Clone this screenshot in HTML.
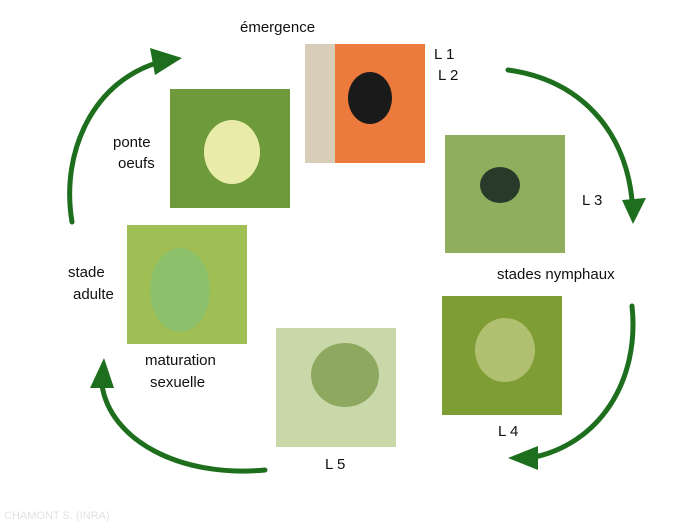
<!DOCTYPE html>
<html><head><meta charset="utf-8"><style>
body{margin:0;width:700px;height:525px;background:#fff;overflow:hidden;position:relative;font-family:"Liberation Sans",sans-serif;}
.t{position:absolute;font-size:15px;color:#111;white-space:nowrap;}
.p{position:absolute;width:120px;height:119px;}
</style></head><body>
<svg width="700" height="525" style="position:absolute;left:0;top:0">
<g fill="none" stroke="#1d6e1d" stroke-linecap="round">
<path d="M72 222 C60 150 95 80 160 62" stroke-width="5"/>
<path d="M508 70 C580 80 625 130 632 200" stroke-width="5"/>
<path d="M632 306 C640 380 600 445 530 458" stroke-width="5"/>
<path d="M265 470 C180 478 110 440 102 385" stroke-width="5"/>
</g>
<g fill="#1d6e1d">
<polygon points="150,48 182,58 155,75"/>
<polygon points="622,200 646,198 633,224"/>
<polygon points="538,446 538,470 508,458"/>
<polygon points="90,388 114,388 104,358"/>
</g>
<!-- photos -->
<rect x="305" y="44" width="120" height="119" fill="#ec7a3c"/>
<rect x="305" y="44" width="30" height="119" fill="#d8cdb8"/>
<ellipse cx="370" cy="98" rx="22" ry="26" fill="#1a1a1a"/>
<rect x="170" y="89" width="120" height="119" fill="#6f9a3c"/>
<ellipse cx="232" cy="152" rx="28" ry="32" fill="#e9eca8"/>
<rect x="445" y="135" width="120" height="118" fill="#8fae5e"/>
<ellipse cx="500" cy="185" rx="20" ry="18" fill="#2a3a2a"/>
<rect x="127" y="225" width="120" height="119" fill="#9fbf55"/>
<ellipse cx="180" cy="290" rx="30" ry="42" fill="#8dc06a"/>
<rect x="442" y="296" width="120" height="119" fill="#7e9d35"/>
<ellipse cx="505" cy="350" rx="30" ry="32" fill="#b0c070"/>
<rect x="276" y="328" width="120" height="119" fill="#c8d8a8"/>
<ellipse cx="345" cy="375" rx="34" ry="32" fill="#8ea860"/>
<text x="4" y="519" font-family="Liberation Sans" font-size="11" fill="#e2e2e2">CHAMONT S. (INRA)</text>
</svg>
<div class="t" style="left:240px;top:19px">émergence</div>
<div class="t" style="left:434px;top:46px">L 1</div>
<div class="t" style="left:438px;top:67px">L 2</div>
<div class="t" style="left:113px;top:134px">ponte</div>
<div class="t" style="left:118px;top:155px">oeufs</div>
<div class="t" style="left:582px;top:192px">L 3</div>
<div class="t" style="left:497px;top:266px">stades nymphaux</div>
<div class="t" style="left:68px;top:264px">stade</div>
<div class="t" style="left:73px;top:286px">adulte</div>
<div class="t" style="left:145px;top:352px">maturation</div>
<div class="t" style="left:150px;top:374px">sexuelle</div>
<div class="t" style="left:498px;top:423px">L 4</div>
<div class="t" style="left:325px;top:456px">L 5</div>
</body></html>
